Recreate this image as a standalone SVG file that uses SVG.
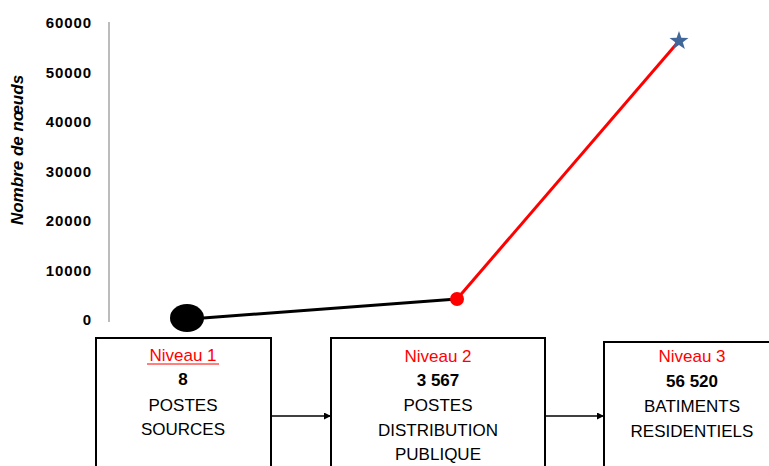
<svg xmlns="http://www.w3.org/2000/svg" width="769" height="466" viewBox="0 0 769 466">
<defs>
<style>
.ax{font-family:"Liberation Sans",Arial,sans-serif;font-weight:bold;font-size:15px;letter-spacing:0.9px;fill:#000;text-anchor:end}
.t{font-family:"Liberation Sans",Arial,sans-serif;font-size:17px;fill:#000;text-anchor:middle}
.b{font-weight:bold}
.r{fill:#FF0000}
.box{fill:#fff;stroke:#000;stroke-width:2}
</style>
<marker id="ah" viewBox="0 0 10 10" refX="10" refY="5" markerWidth="7" markerHeight="7" markerUnits="userSpaceOnUse" orient="auto">
<path d="M0,0 L10,5 L0,10 z" fill="#000"/>
</marker>
</defs>
<rect width="769" height="466" fill="#fff"/>
<g id="axis">
<line x1="109" y1="22" x2="109" y2="322" stroke="#A6A6A6" stroke-width="1.5"/>
<text class="ax" x="92" y="28">60000</text>
<text class="ax" x="92" y="77.5">50000</text>
<text class="ax" x="92" y="127">40000</text>
<text class="ax" x="92" y="176.5">30000</text>
<text class="ax" x="92" y="226">20000</text>
<text class="ax" x="92" y="275.5">10000</text>
<text class="ax" x="92" y="325">0</text>
<text transform="translate(23,150) rotate(-90)" style="font-family:'Liberation Sans',Arial,sans-serif;font-weight:bold;font-style:italic;font-size:17px;text-anchor:middle">Nombre de nœuds</text>
</g>
<g id="series">
<line x1="190" y1="319" x2="457" y2="299" stroke="#000" stroke-width="3"/>
<line x1="457" y1="299" x2="679" y2="41" stroke="#FF0000" stroke-width="3"/>
<ellipse cx="187" cy="318" rx="17" ry="14" fill="#000"/>
<circle cx="457" cy="299" r="7" fill="#FF0000"/>
<polygon points="679,31 681.35,37.76 688.51,37.91 682.8,42.24 684.88,49.09 679,45 673.12,49.09 675.2,42.24 669.49,37.91 676.65,37.76" fill="#41679A"/>
</g>
<g id="connectors">
<line x1="272" y1="416" x2="331" y2="416" stroke="#000" stroke-width="1.5" marker-end="url(#ah)"/>
<line x1="545" y1="416" x2="604" y2="416" stroke="#000" stroke-width="1.5" marker-end="url(#ah)"/>
</g>
<g id="node1">
<rect class="box" x="96" y="338" width="175" height="140"/>
<text class="t r" x="183" y="361">Niveau 1</text>
<line x1="147" y1="364" x2="219" y2="364" stroke="#FF0000" stroke-width="1.2"/>
<text class="t b" x="183" y="385">8</text>
<text class="t" x="183" y="411">POSTES</text>
<text class="t" x="183" y="435">SOURCES</text>
</g>
<g id="node2">
<rect class="box" x="331" y="338" width="214" height="140"/>
<text class="t r" x="438" y="362">Niveau 2</text>
<text class="t b" x="438" y="386">3 567</text>
<text class="t" x="438" y="411">POSTES</text>
<text class="t" x="438" y="436">DISTRIBUTION</text>
<text class="t" x="438" y="460">PUBLIQUE</text>
</g>
<g id="node3">
<rect class="box" x="604" y="342" width="180" height="140"/>
<text class="t r" x="692" y="362">Niveau 3</text>
<text class="t b" x="692" y="387">56 520</text>
<text class="t" x="692" y="412">BATIMENTS</text>
<text class="t" x="692" y="437">RESIDENTIELS</text>
</g>
</svg>
